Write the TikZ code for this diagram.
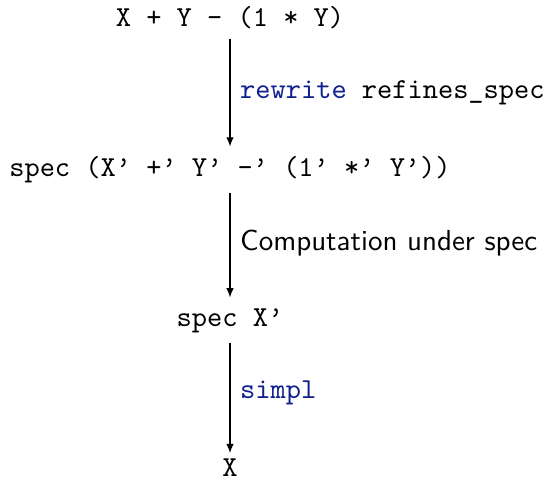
\documentclass[tikz,border=0pt]{standalone}
\usetikzlibrary{arrows.meta}
\definecolor{kwblue}{RGB}{16,32,140}
\tikzset{
  term/.style={inner sep=0pt, text height=6.11pt, text depth=0pt, anchor=base, font=\ttfamily},
  arr/.style={line width=0.4pt, -{Latex[length=3.2pt,width=2.6pt]}},
  lbl/.style={right, inner sep=3.33pt}
}
\begin{document}
\begin{tikzpicture}[x=0.345pt, y=-0.345pt]
\useasboundingbox (0,0) rectangle (547,480);
\node[term] (n1) at (230,27) {X + Y - (1 * Y)};
\node[term] (n2) at (230,177) {spec (X’ +’ Y’ -’ (1’ *’ Y’))};
\node[term] (n3) at (230,327) {spec X’};
\node[term] (n4) at (230,476) {X};
\draw[arr, shorten <=3.8pt, shorten >=4.2pt] (n1.south) -- (n2.north)
  node[lbl, midway] {\ttfamily\textcolor{kwblue}{rewrite} refines\_spec};
\draw[arr, shorten <=5.2pt, shorten >=3.9pt] (n2.south) -- (n3.north)
  node[lbl, midway] {\sffamily Computation under spec};
\draw[arr, shorten <=5.2pt, shorten >=1.6pt] (n3.south) -- (n4.north)
  node[lbl, midway] {\ttfamily\textcolor{kwblue}{simpl}};
\end{tikzpicture}
\end{document}
